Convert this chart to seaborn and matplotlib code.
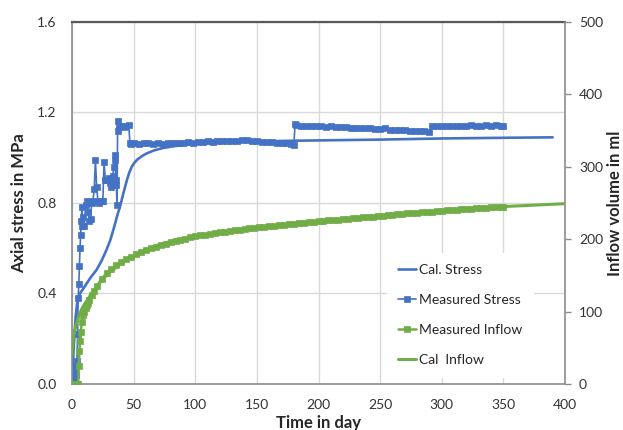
import matplotlib
matplotlib.use("Agg")
import matplotlib.pyplot as plt
import seaborn as sns
from matplotlib.ticker import FormatStrFormatter, MultipleLocator

############################################################### Data

# calculated stress (MPa)
cal_stress_day = [0.5, 1, 2, 3, 4, 5, 7, 9, 12, 15, 20, 24, 28, 31, 34, 37, 39, 42, 44.5, 46.5,
                  48.5, 50.5, 53, 57, 61, 67, 74, 83, 93, 110, 130, 180, 250, 300, 350, 390]
cal_stress = [0.05, 0.12, 0.22, 0.30, 0.35, 0.38, 0.405, 0.42, 0.445, 0.47, 0.505, 0.545, 0.593,
              0.635, 0.69, 0.75, 0.785, 0.85, 0.90, 0.935, 0.96, 0.977, 0.992, 1.008, 1.02,
              1.033, 1.043, 1.051, 1.057, 1.064, 1.07, 1.075, 1.08, 1.085, 1.088, 1.09]

# measured stress (MPa)
meas_stress_day = [0, 0.5, 1, 1.5, 2, 2.5, 3, 3.5, 4, 4.5, 5, 5.5, 6, 6.5, 7, 7.5, 8, 8.5, 9, 10,
                   11, 12, 13, 14, 15, 16, 17, 18, 19, 20, 21, 22, 24, 25, 26, 27, 28, 30, 31, 32,
                   33, 34, 34.5, 35, 35.5, 36, 36.5, 37, 37.5, 38, 40, 42, 44, 46, 47, 48, 50,
                   54, 58, 62, 66, 70, 74, 78, 82, 86, 90, 94, 98, 102, 106, 110, 114, 118, 122,
                   126, 130, 134, 138, 142, 146, 150, 154, 158, 162, 166, 170, 174, 178, 180,
                   181, 182, 186, 190, 194, 198, 202, 206, 210, 214, 218, 222, 226, 230, 234, 238,
                   242, 246, 250, 254, 258, 262, 266, 270, 274, 278, 282, 286, 290, 292, 296, 300,
                   304, 308, 312, 316, 320, 324, 328, 332, 336, 340, 344, 348, 350]
meas_stress = [0.02, 0.06, 0.03, 0.06, 0.02, 0.05, 0.08, 0.04, 0.10, 0.22, 0.38, 0.44, 0.52, 0.60,
               0.66, 0.72, 0.78, 0.70, 0.74, 0.70, 0.79, 0.81, 0.76, 0.72, 0.73, 0.80, 0.81, 0.86,
               0.99, 0.87, 0.81, 0.80, 0.81, 0.81, 0.98, 0.90, 0.90, 0.91, 0.89, 0.87, 0.92, 0.96,
               0.99, 1.01, 0.90, 0.88, 0.79, 1.12, 1.16, 1.14, 1.14, 1.135, 1.14, 1.145, 1.065,
               1.06, 1.065,
               1.062, 1.066, 1.064, 1.060, 1.063, 1.061, 1.065, 1.066, 1.063, 1.067, 1.068, 1.066,
               1.070, 1.069, 1.072, 1.071, 1.074, 1.073, 1.075, 1.076, 1.074, 1.077, 1.078, 1.076,
               1.072, 1.070, 1.071, 1.068, 1.066, 1.067, 1.064, 1.062, 1.055,
               1.150, 1.143, 1.140, 1.142, 1.139, 1.138, 1.140, 1.137, 1.139, 1.136, 1.134, 1.136,
               1.133, 1.131, 1.133, 1.130, 1.131, 1.128, 1.126, 1.130, 1.124, 1.122, 1.121, 1.124,
               1.120, 1.118, 1.119, 1.116, 1.115, 1.140, 1.142, 1.139, 1.141, 1.140, 1.142, 1.139,
               1.141, 1.143, 1.140, 1.142, 1.145, 1.141, 1.143, 1.140, 1.142]

# measured inflow (ml)
meas_inflow_day = [0, 1, 2, 3, 4, 5, 5.5, 6, 6.5, 7, 8, 9, 10, 11, 12, 13, 14, 16, 18, 20,
                   24, 28, 32, 36, 40, 44, 48, 52, 56, 60, 64, 68, 72, 76, 80, 84, 88, 92, 96,
                   100, 104, 108, 112, 116, 120, 124, 128, 132, 136, 140, 144, 148, 152, 156,
                   160, 164, 168, 172, 176, 180, 184, 188, 192, 196, 200, 204, 208, 212, 216,
                   220, 224, 228, 232, 236, 240, 244, 248, 252, 256, 260, 264, 268, 272, 276,
                   280, 284, 288, 292, 296, 300, 304, 308, 312, 316, 320, 324, 328, 332, 336,
                   340, 344, 348, 350]
meas_inflow = [0, 0, 0, 0, 0, 0, 25, 45, 60, 72, 85, 95, 100, 105, 109, 112, 116, 123, 129, 135,
               145, 153, 159, 164, 168.5, 172.5, 176, 179.2, 182.2, 185, 187.5, 189.8, 192, 194,
               195.8, 197.5, 199.2, 200.8, 202.4,
               204, 205.2, 206.3, 207.4, 208.4, 209.4, 210.4, 211.3, 212.2, 213.1, 214.0, 214.8,
               215.6, 216.4, 217.2, 218.0, 218.7, 219.4, 220.1, 220.8, 221.5, 222.2, 222.9, 223.5,
               224.1, 224.7, 225.3, 225.9, 226.5, 227.1, 227.7, 228.3, 228.9, 229.5, 230.1, 230.7,
               231.3, 231.9, 232.5, 233.1, 233.7, 234.3, 234.9, 235.5, 236.1, 236.7, 237.2, 237.7,
               238.2, 238.7, 239.2, 239.7, 240.2, 240.7, 241.2, 241.7, 242.2, 242.7, 243.1, 243.5,
               243.9, 244.3, 244.7, 245.0]

# calculated inflow (ml)
cal_inflow_day = [0, 0.5, 1, 2, 3, 4, 5, 6, 8, 10, 12, 15, 20, 25, 30, 40, 50, 60, 70, 80, 100,
                  120, 150, 180, 200, 250, 300, 350, 400]
cal_inflow = [40, 55, 63, 72, 80, 86, 91, 96, 104, 110, 115, 123, 134, 145, 153, 167, 177, 185,
              192, 197, 204, 209, 215, 221, 225, 232, 239, 245, 249]

BLUE = "#4472C4"
GREEN = "#70AD47"

############################################################### Plot

sns.set_style("white")
plt.rcParams["font.family"] = ["Lato", "DejaVu Sans"]

fig = plt.figure(figsize=(6.23, 4.30), dpi=100)
ax = fig.add_axes([0.1156, 0.107, 0.7913, 0.842])
ax2 = ax.twinx()

sns.lineplot(x=cal_stress_day, y=cal_stress, ax=ax, color=BLUE, linewidth=1.9,
             label="Cal. Stress", estimator=None, sort=False)
sns.lineplot(x=meas_stress_day, y=meas_stress, ax=ax, color=BLUE, linewidth=1.2,
             marker="s", markersize=3.8, markeredgecolor=BLUE, markeredgewidth=0.5,
             label="Measured Stress", estimator=None, sort=False)
sns.lineplot(x=meas_inflow_day, y=meas_inflow, ax=ax2, color=GREEN, linewidth=1.8,
             marker="s", markersize=4.0, markeredgecolor=GREEN, markeredgewidth=0.5,
             label="Measured Inflow", estimator=None, sort=False)
sns.lineplot(x=cal_inflow_day, y=cal_inflow, ax=ax2, color=GREEN, linewidth=2.2,
             label="Cal  Inflow", estimator=None, sort=False)

ax.set_xlim(0, 400)
ax.set_ylim(0, 1.6)
ax2.set_ylim(0, 500)
ax.xaxis.set_major_locator(MultipleLocator(50))
ax.yaxis.set_major_locator(MultipleLocator(0.4))
ax.yaxis.set_major_formatter(FormatStrFormatter("%.1f"))
ax2.yaxis.set_major_locator(MultipleLocator(100))

ax.grid(True, color="#D9D9D9", linewidth=1)
ax2.grid(False)

for s in ["left", "bottom"]:
    ax.spines[s].set_color("#8C8C8C")
    ax.spines[s].set_linewidth(1.2)
ax.spines["top"].set_color("#595959")
ax.spines["top"].set_linewidth(1.6)
ax.spines["right"].set_visible(False)
for s in ["left", "bottom", "top"]:
    ax2.spines[s].set_visible(False)
ax2.spines["right"].set_color("#8C8C8C")
ax2.spines["right"].set_linewidth(1.2)

ax.tick_params(axis="both", length=0, labelsize=10, labelcolor="#333333")
ax.tick_params(axis="y", pad=11)
ax.tick_params(axis="x", pad=11)
ax2.tick_params(axis="y", right=True, length=4, width=1, color="#8C8C8C", pad=6,
                labelsize=10, labelcolor="#333333")

ax.set_xlabel("Time in day", fontsize=12, fontweight="bold")
ax.set_ylabel("Axial stress in MPa", fontsize=12, fontweight="bold")
ax2.set_ylabel("Inflow volume in ml", fontsize=12, fontweight="bold")
ax.xaxis.set_label_coords(0.5, -0.085)
ax.yaxis.set_label_coords(-0.092, 0.5)
ax2.yaxis.set_label_coords(1.085, 0.5)

h1, l1 = ax.get_legend_handles_labels()
h2, l2 = ax2.get_legend_handles_labels()
ax.get_legend().remove()
ax2.get_legend().remove()
leg = ax2.legend(h1 + h2, l1 + l2, loc="center", bbox_to_anchor=(0.787, 0.19),
                 frameon=True, facecolor="white", edgecolor="white", framealpha=1,
                 fontsize=10, handlelength=1.3, handletextpad=0.2, labelspacing=1.3,
                 borderpad=0.8, fancybox=False)

fig.savefig("out.png", dpi=100)
